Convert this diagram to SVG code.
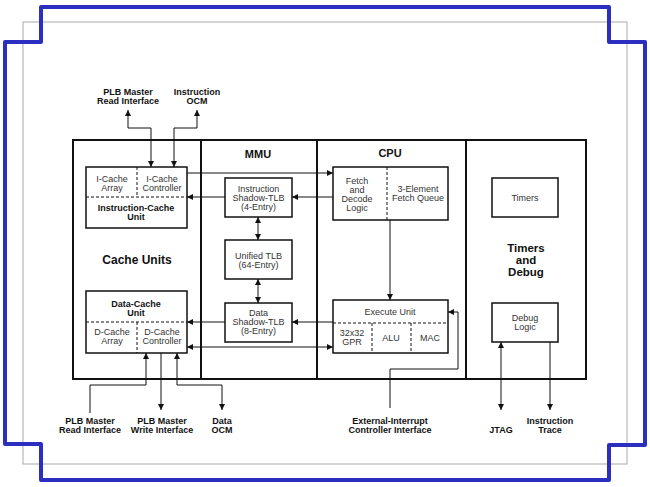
<svg xmlns="http://www.w3.org/2000/svg" width="650" height="487" viewBox="0 0 650 487">
<defs>
<marker id="ah" markerUnits="userSpaceOnUse" markerWidth="7" markerHeight="6" refX="6" refY="3" orient="auto">
<path d="M0,0 L6,3 L0,6 z" fill="#111"/>
</marker>
<marker id="as" markerUnits="userSpaceOnUse" markerWidth="7" markerHeight="6" refX="0" refY="3" orient="auto">
<path d="M6,0 L0,3 L6,6 z" fill="#111"/>
</marker>
</defs>
<style>
.t{font-family:"Liberation Sans",Arial,sans-serif;font-size:9px;fill:#333;text-anchor:middle}
.b{font-family:"Liberation Sans",Arial,sans-serif;font-size:9px;font-weight:bold;fill:#111;text-anchor:middle}
.h{font-family:"Liberation Sans",Arial,sans-serif;font-size:12px;font-weight:bold;fill:#111;text-anchor:middle}
.box{fill:#fff;stroke:#111;stroke-width:1.5}
.dash{fill:none;stroke:#111;stroke-width:1;stroke-dasharray:3,2}
.c{fill:none;stroke:#111;stroke-width:1}
</style>
<rect width="650" height="487" fill="#fff"/>
<rect x="23" y="22" width="604" height="442" fill="none" stroke="#aaa" stroke-width="1"/>
<path d="M41,42 L41,7 L609,7 L609,42 L645,42 L645,445 L609,445 L609,480 L41,480 L41,444 L5,444 L5,42 Z" fill="none" stroke="#2b2fbf" stroke-width="4" stroke-linejoin="round"/>

<g id="frame">
<rect x="73" y="140" width="513" height="239" fill="none" stroke="#111" stroke-width="2"/>
<line x1="201" y1="140" x2="201" y2="379" stroke="#111" stroke-width="2"/>
<line x1="317" y1="140" x2="317" y2="379" stroke="#111" stroke-width="2"/>
<line x1="466" y1="140" x2="466" y2="379" stroke="#111" stroke-width="2"/>
<text class="h" x="137" y="264">Cache Units</text>
<text class="h" x="258" y="158" style="font-size:11px">MMU</text>
<text class="h" x="390" y="157" style="font-size:11px">CPU</text>
<text class="h" x="526" y="252" style="font-size:11.5px">Timers</text>
<text class="h" x="526" y="264" style="font-size:11.5px">and</text>
<text class="h" x="526" y="276" style="font-size:11.5px">Debug</text>
</g>

<g id="icache">
<rect class="box" x="86" y="167" width="101" height="61"/>
<line class="dash" x1="86" y1="197" x2="187" y2="197"/>
<line class="dash" x1="137" y1="167" x2="137" y2="197"/>
<text class="t" x="112" y="182">I-Cache</text>
<text class="t" x="112" y="191">Array</text>
<text class="t" x="162" y="182">I-Cache</text>
<text class="t" x="162" y="191">Controller</text>
<text class="b" x="136" y="211">Instruction-Cache</text>
<text class="b" x="136" y="220">Unit</text>
</g>

<g id="dcache">
<rect class="box" x="86" y="291" width="101" height="62"/>
<line class="dash" x1="86" y1="322" x2="187" y2="322"/>
<line class="dash" x1="137" y1="322" x2="137" y2="353"/>
<text class="b" x="136" y="307">Data-Cache</text>
<text class="b" x="136" y="316">Unit</text>
<text class="t" x="112" y="335">D-Cache</text>
<text class="t" x="112" y="344">Array</text>
<text class="t" x="162" y="335">D-Cache</text>
<text class="t" x="162" y="344">Controller</text>
</g>

<g id="itlb">
<rect class="box" x="225" y="178" width="67" height="39"/>
<text class="t" x="258.5" y="192">Instruction</text>
<text class="t" x="258.5" y="201">Shadow-TLB</text>
<text class="t" x="258.5" y="210">(4-Entry)</text>
</g>

<g id="utlb">
<rect class="box" x="225" y="240" width="67" height="39"/>
<text class="t" x="258.5" y="259">Unified TLB</text>
<text class="t" x="258.5" y="268">(64-Entry)</text>
</g>

<g id="dtlb">
<rect class="box" x="225" y="303" width="67" height="39"/>
<text class="t" x="258.5" y="316">Data</text>
<text class="t" x="258.5" y="325">Shadow-TLB</text>
<text class="t" x="258.5" y="334">(8-Entry)</text>
</g>

<g id="fetch">
<rect class="box" x="333" y="167" width="115" height="53"/>
<line class="dash" x1="387" y1="167" x2="387" y2="220"/>
<text class="t" x="357" y="184">Fetch</text>
<text class="t" x="357" y="193">and</text>
<text class="t" x="357" y="202">Decode</text>
<text class="t" x="357" y="211">Logic</text>
<text class="t" x="418" y="192">3-Element</text>
<text class="t" x="418" y="201">Fetch Queue</text>
</g>

<g id="execute">
<rect class="box" x="333" y="300" width="115" height="53"/>
<line class="dash" x1="333" y1="323" x2="448" y2="323"/>
<line class="dash" x1="372" y1="323" x2="372" y2="353"/>
<line class="dash" x1="411" y1="323" x2="411" y2="353"/>
<text class="t" x="390" y="315">Execute Unit</text>
<text class="t" x="352" y="336">32x32</text>
<text class="t" x="352" y="345">GPR</text>
<text class="t" x="391" y="341">ALU</text>
<text class="t" x="430" y="341">MAC</text>
</g>

<g id="timers">
<rect class="box" x="492" y="178" width="66" height="39"/>
<text class="t" x="525" y="201">Timers</text>
</g>

<g id="debug">
<rect class="box" x="492" y="303" width="66" height="39"/>
<text class="t" x="525" y="321">Debug</text>
<text class="t" x="525" y="330">Logic</text>
</g>

<g id="labels">
<text class="b" x="128" y="95">PLB Master</text>
<text class="b" x="128" y="104">Read Interface</text>
<text class="b" x="197" y="95">Instruction</text>
<text class="b" x="197" y="104">OCM</text>
<text class="b" x="90" y="424">PLB Master</text>
<text class="b" x="90" y="433">Read Interface</text>
<text class="b" x="162" y="424">PLB Master</text>
<text class="b" x="162" y="433">Write Interface</text>
<text class="b" x="222" y="424">Data</text>
<text class="b" x="222" y="433">OCM</text>
<text class="b" x="390" y="424">External-Interrupt</text>
<text class="b" x="390" y="433">Controller Interface</text>
<text class="b" x="501" y="433">JTAG</text>
<text class="b" x="550" y="424">Instruction</text>
<text class="b" x="550" y="433">Trace</text>
</g>

<g id="connectors">
<path class="c" d="M128,110 L128,128 L151,128 L151,167" marker-start="url(#as)" marker-end="url(#ah)"/>
<path class="c" d="M197,110 L197,128 L174,128 L174,167" marker-start="url(#as)" marker-end="url(#ah)"/>
<path class="c" d="M187,173 L333,173" marker-end="url(#ah)"/>
<path class="c" d="M333,197 L292,197" marker-end="url(#ah)"/>
<path class="c" d="M225,197 L187,197" marker-end="url(#ah)"/>
<path class="c" d="M258,217 L258,240" marker-start="url(#as)" marker-end="url(#ah)"/>
<path class="c" d="M258,279 L258,303" marker-start="url(#as)" marker-end="url(#ah)"/>
<path class="c" d="M333,322 L292,322" marker-end="url(#ah)"/>
<path class="c" d="M225,322 L187,322" marker-end="url(#ah)"/>
<path class="c" d="M187,347 L333,347" marker-start="url(#as)" marker-end="url(#ah)"/>
<path class="c" d="M390,220 L390,300" marker-end="url(#ah)"/>
<path class="c" d="M390,408 L390,369 L458,369 L458,312 L448,312" marker-end="url(#ah)"/>
<path class="c" d="M501,342 L501,410" marker-start="url(#as)" marker-end="url(#ah)"/>
<path class="c" d="M550,342 L550,410" marker-end="url(#ah)"/>
<path class="c" d="M90,413 L90,385 L146,385 L146,353" marker-end="url(#ah)"/>
<path class="c" d="M161,353 L161,410" marker-end="url(#ah)"/>
<path class="c" d="M177,353 L177,385 L222,385 L222,410" marker-start="url(#as)" marker-end="url(#ah)"/>
</g>
</svg>
